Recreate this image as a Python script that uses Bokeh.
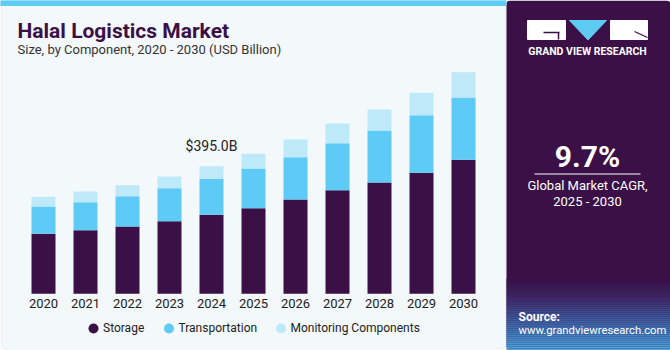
from bokeh.plotting import figure
from bokeh.models import Range1d, BoxAnnotation, ColumnDataSource
from bokeh.core.properties import value
from bokeh.embed import file_html
from bokeh.resources import INLINE

# ---------------- data ----------------
years = [2020, 2021, 2022, 2023, 2024, 2025, 2026, 2027, 2028, 2029, 2030]
year_labels = [str(y) for y in years]
storage = [185.8, 196.9, 208.3, 224.8, 244.6, 265.0, 292.0, 320.7, 344.6, 374.6, 414.9]
transportation = [84.5, 86.7, 93.8, 102.2, 111.4, 122.9, 131.0, 145.5, 161.0, 178.3, 192.9]
monitoring = [30.0, 33.1, 34.1, 36.2, 39.0, 45.5, 54.8, 61.0, 65.0, 69.3, 78.3]
series_names = ["Storage", "Transportation", "Monitoring Components"]
colors = ["#3a1047", "#5ecbf7", "#bde9f9"]
highlight_year = 2024
cagr_text = "9.7%"

# ---------------- layout constants (pixels) ----------------
W, H = 670, 350
first_bar_px = 43.0       # centre of first bar
step_px = 42.0            # distance between bars
bar_px = 24.0             # bar width
baseline_px = 293.3       # baseline from top
units_per_px = 3.096      # billions per pixel

FONT = "Roboto"
purple = "#3a1047"

p = figure(width=W, height=H, output_backend="svg", toolbar_location=None,
           x_range=Range1d(0, W), y_range=Range1d(H, 0),
           x_axis_location=None, y_axis_location=None, min_border=0,
           outline_line_color=None, background_fill_color="white",
           border_fill_color="white")
p.grid.visible = False

# extra ranges: years and values mapped over the full canvas
yr_start = years[0] - first_bar_px / step_px
yr_end = years[0] + (W - first_bar_px) / step_px
p.extra_x_ranges = {"yr": Range1d(yr_start, yr_end)}
base_from_bottom = H - baseline_px
p.extra_y_ranges = {"val": Range1d(-base_from_bottom * units_per_px,
                                   (H - base_from_bottom) * units_per_px)}

# ---------------- panels ----------------
p.add_layout(BoxAnnotation(left=0.5, right=505.5, top=0.5, bottom=348.5,
                           fill_color="#f3f8fb", fill_alpha=1,
                           line_color="#cdd1d5", line_width=1.2,
                           border_radius=5, level="underlay"))
p.quad(left=[0], right=[505.5], top=[0], bottom=[5], color="#5ecbf3")

p.add_layout(BoxAnnotation(left=506, right=670, top=0, bottom=350,
                           fill_color=purple, fill_alpha=1, line_color=None,
                           border_radius=4, level="underlay"))

# gradient at bottom of right panel (decoration)
stops = [(278, (58, 16, 71)), (295, (60, 38, 100)), (312, (60, 78, 145)),
         (330, (62, 120, 185)), (350, (78, 172, 226))]
gl, gr, gt, gb, gc = [], [], [], [], []
yy = 278
while yy < 350:
    for (y0, c0), (y1, c1) in zip(stops[:-1], stops[1:]):
        if y0 <= yy < y1:
            t = (yy - y0) / (y1 - y0)
            c = tuple(int(round(a + (b - a) * t)) for a, b in zip(c0, c1))
            break
    gl.append(506); gr.append(670); gt.append(yy); gb.append(yy + 2)
    gc.append("#%02x%02x%02x" % c)
    yy += 2
p.quad(left=gl, right=gr, top=gt, bottom=gb, fill_color=gc, line_color=None)

# logo
p.quad(left=[527, 610], right=[565, 647], top=[20, 20], bottom=[39, 39],
       color="white")
p.patch(x=[569, 606, 587.5], y=[20, 20, 39.5], color="#5ecbf3")
p.segment(x0=[543, 558], y0=[32, 32], x1=[559, 558], y1=[32, 39],
          line_color=purple, line_width=1.5)
p.segment(x0=[634], y0=[31], x1=[647], y1=[37], line_color=purple, line_width=1.3)
p.text(x=[587], y=[51], text=["GRAND VIEW RESEARCH"], text_color="white",
       text_font=value(FONT), text_font_style="bold", text_font_size="10.5px",
       text_align="center", text_baseline="middle")

# CAGR
p.text(x=[587], y=[156], text=[cagr_text], text_color="white",
       text_font=value(FONT), text_font_style="bold", text_font_size="30px",
       text_align="center", text_baseline="middle")
p.segment(x0=[534], y0=[173.5], x1=[640], y1=[173.5], line_color="white",
          line_width=1.2)
p.text(x=[587, 587], y=[185, 201], text=["Global Market CAGR,", "2025 - 2030"],
       text_color="white", text_font=value(FONT), text_font_size="13px",
       text_align="center", text_baseline="middle")

# source
p.text(x=[518], y=[316], text=["Source:"], text_color="white",
       text_font=value(FONT), text_font_style="bold", text_font_size="12px",
       text_align="left", text_baseline="middle")
p.text(x=[518], y=[330], text=["www.grandviewresearch.com"], text_color="white",
       text_font=value(FONT), text_font_size="11.3px",
       text_align="left", text_baseline="middle")

# titles
p.text(x=[17], y=[30], text=["Halal Logistics Market"], text_color=purple,
       text_font=value(FONT), text_font_style="bold", text_font_size="21px",
       text_align="left", text_baseline="middle")
p.text(x=[17], y=[48.5], text=["Size, by Component, 2020 - 2030 (USD Billion)"],
       text_color="#333333", text_font=value(FONT), text_font_size="13px",
       text_align="left", text_baseline="middle")

# ---------------- bars ----------------
src = ColumnDataSource(dict(year=years, Storage=storage,
                            Transportation=transportation,
                            Monitoring=monitoring))
p.vbar_stack(["Storage", "Transportation", "Monitoring"], x="year",
             width=bar_px / step_px, source=src, fill_color=colors,
             line_color=None, x_range_name="yr", y_range_name="val")

# year labels
p.text(x=years, y=[303] * len(years), text=year_labels, text_color="#222222",
       text_font=value(FONT), text_font_size="13px", text_align="center",
       text_baseline="middle", x_range_name="yr")

# highlight label
hi = years.index(highlight_year)
tot = storage[hi] + transportation[hi] + monitoring[hi]
p.text(x=[highlight_year], y=[tot], text=["$%.1fB" % tot], text_color="#222222",
       text_font=value(FONT), text_font_size="14px", text_align="center",
       text_baseline="middle", y_offset=-20, x_range_name="yr",
       y_range_name="val")

# legend
leg_x = [93, 168.5, 280.5]
p.scatter(x=leg_x, y=[328] * 3, size=10, marker="circle", fill_color=colors,
          line_color=None)
p.text(x=[x + 9.5 for x in leg_x], y=[327.5] * 3, text=series_names,
       text_color="#222222", text_font=value(FONT), text_font_size="12px",
       text_align="left", text_baseline="middle")

open("out.html", "w").write(file_html(p, INLINE))
